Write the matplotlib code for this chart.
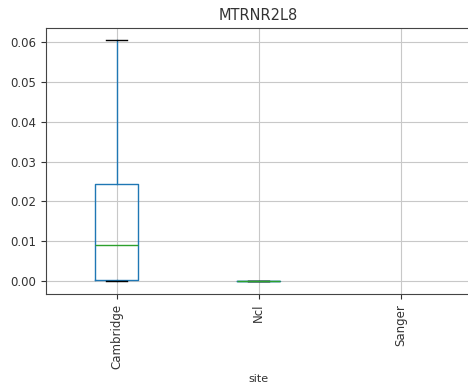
import numpy as np
import matplotlib
matplotlib.use("Agg")
import matplotlib.pyplot as plt

# box statistics per site (Sanger has no data)
sites = ["Cambridge", "Ncl", "Sanger"]
whislo = [0.0, 0.0, np.nan]
q1 = [0.0003, 0.0, np.nan]
median = [0.009, 0.0, np.nan]
q3 = [0.0245, 0.0, np.nan]
whishi = [0.0605, 0.0, np.nan]

stats = []
for i, site in enumerate(sites):
    stats.append({
        "label": site,
        "whislo": whislo[i], "q1": q1[i], "med": median[i],
        "q3": q3[i], "whishi": whishi[i], "fliers": [],
    })

plt.rcParams["font.size"] = 8.5
plt.rcParams["lines.linewidth"] = 1.0

fig = plt.figure(figsize=(4.68, 3.89), dpi=100)
ax = fig.add_axes([45.5 / 468, 1 - 294 / 389, (472 - 45.5) / 468, (294 - 28) / 389])

ax.bxp(
    stats,
    positions=[1, 2, 3],
    widths=0.3,
    boxprops=dict(color="#1f77b4"),
    whiskerprops=dict(color="#1f77b4"),
    capprops=dict(color="k"),
    medianprops=dict(color="#2ca02c"),
)
ax.set_xlim(0.5, 3.5)
ax.set_ylim(-0.0032, 0.0635)
ax.set_yticks([0.0, 0.01, 0.02, 0.03, 0.04, 0.05, 0.06])
ax.set_xticks([1, 2, 3])
ax.set_xticklabels(sites, rotation=90)
ax.tick_params(labelsize=8.5, colors="#333333", labelcolor="#333333")
ax.grid(True, color="#c8c8c8")
for s in ax.spines.values():
    s.set_color("#444444")
ax.set_title("MTRNR2L8", fontsize=10.5, color="#333333")
ax.set_xlabel("site", fontsize=8, color="#333333")

fig.savefig("out.png", dpi=100)
